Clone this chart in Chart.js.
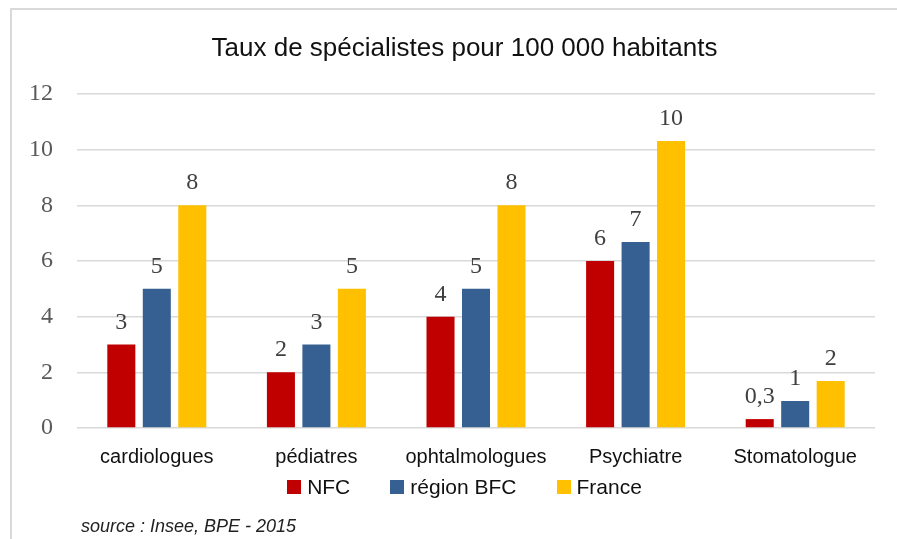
<!DOCTYPE html>
<html>
<head>
<meta charset="utf-8">
<script src="https://cdn.jsdelivr.net/npm/chart.js@4/dist/chart.umd.min.js"></script>
<style>
  html, body { margin: 0; padding: 0; background: #ffffff; overflow: hidden; }
  #wrap { position: relative; width: 897px; height: 539px; }
  #frame { position: absolute; left: 10px; top: 8px; width: 1000px; height: 600px;
           border-top: 2px solid #d9d9d9; border-left: 2px solid #d9d9d9; box-sizing: border-box; }
  canvas { position: absolute; left: 0; top: 0; }
  #title { position: absolute; left: 16px; width: 897px; top: 32px; height: 31px; line-height: 31px;
           text-align: center; font-family: "Liberation Sans", Arial, sans-serif; font-size: 26px; color: #111; }
  #legend { position: absolute; left: 16px; width: 897px; top: 475px; height: 24px;
            display: flex; justify-content: center; align-items: center;
            font-family: "Liberation Sans", Arial, sans-serif; font-size: 21px; color: #111; }
  #legend .item { display: flex; align-items: center; margin: 0 20px; }
  #legend .box { width: 14px; height: 14px; margin-right: 6px; }
  #source { position: absolute; left: 81px; top: 516px; font-family: "Liberation Sans", Arial, sans-serif;
            font-style: italic; font-size: 18px; color: #222; white-space: nowrap; }
</style>
</head>
<body>
<div id="wrap">
  <div id="frame"></div>
  <canvas id="c" width="897" height="539"></canvas>
  <div id="title"></div>
  <div id="legend"></div>
  <div id="source">source : Insee, BPE - 2015</div>
</div>
<script>
const title = "Taux de spécialistes pour 100 000 habitants";
const categories = ["cardiologues", "pédiatres", "ophtalmologues", "Psychiatre", "Stomatologue"];
const seriesNames = ["NFC", "région BFC", "France"];
const nfc = [3.0, 2.0, 4.0, 6.0, 0.32];
const regionBFC = [5.0, 3.0, 5.0, 6.68, 0.97];
const france = [8.0, 5.0, 8.0, 10.31, 1.69];
const yTicks = [0, 2, 4, 6, 8, 10, 12];
const colors = ["#C00000", "#376092", "#FFC000"];

document.getElementById('title').textContent = title;

function fmt(v) {
  const r = Math.round(v);
  if (r === 0) return v.toFixed(1).replace('.', ',');
  return String(r);
}

const valueLabels = {
  id: 'valueLabels',
  afterDatasetsDraw(chart) {
    const ctx = chart.ctx;
    ctx.save();
    ctx.font = '24px "Liberation Serif", "Times New Roman", serif';
    ctx.fillStyle = '#404040';
    ctx.textAlign = 'center';
    ctx.textBaseline = 'alphabetic';
    chart.data.datasets.forEach((ds, i) => {
      const meta = chart.getDatasetMeta(i);
      meta.data.forEach((el, j) => {
        ctx.fillText(fmt(ds.data[j]), el.x, el.y - 16);
      });
    });
    ctx.restore();
  }
};

const seriesData = [nfc, regionBFC, france];
const datasets = seriesNames.map((n, i) => ({
  label: n,
  data: seriesData[i],
  backgroundColor: colors[i],
  borderWidth: 0,
  categoryPercentage: 0.667,
  barPercentage: 0.79
}));

new Chart(document.getElementById('c'), {
  type: 'bar',
  data: { labels: categories, datasets },
  options: {
    responsive: false,
    animation: false,
    devicePixelRatio: 1,
    layout: { padding: { left: 5, right: 22, top: 94, bottom: 53 } },
    plugins: {
      legend: { display: false },
      tooltip: { enabled: false },
      title: { display: false }
    },
    scales: {
      x: {
        grid: { display: false, drawTicks: false },
        border: { display: false },
        ticks: {
          color: '#111',
          padding: 17,
          font: { family: '"Liberation Sans", Arial, sans-serif', size: 20 }
        }
      },
      y: {
        min: 0, max: 12,
        afterBuildTicks(axis) { axis.ticks = yTicks.map(v => ({ value: v })); },
        grid: { color: '#d9d9d9', lineWidth: 1.5, drawTicks: false },
        border: { display: false },
        ticks: {
          color: '#595959',
          padding: 24,
          font: { family: '"Liberation Serif", "Times New Roman", serif', size: 24 }
        }
      }
    }
  },
  plugins: [valueLabels]
});

const lg = document.getElementById('legend');
seriesNames.forEach((n, i) => {
  const it = document.createElement('div');
  it.className = 'item';
  const b = document.createElement('div');
  b.className = 'box';
  b.style.background = colors[i];
  const t = document.createElement('span');
  t.textContent = n;
  it.appendChild(b); it.appendChild(t);
  lg.appendChild(it);
});
</script>
</body>
</html>
